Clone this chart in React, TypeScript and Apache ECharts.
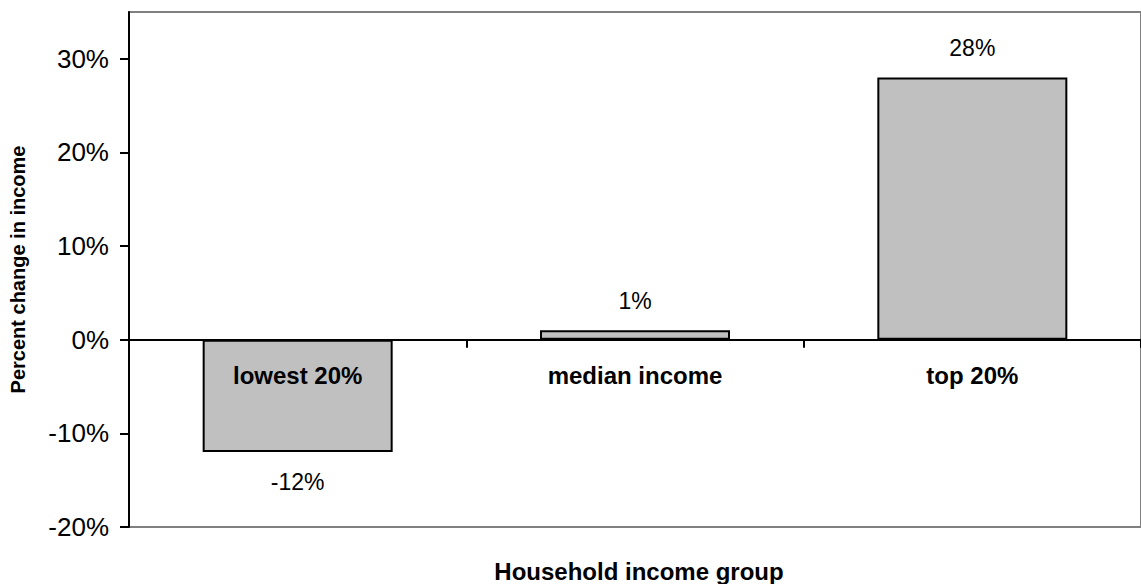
import React, { useEffect, useRef } from "react";
import * as echarts from "echarts";

// Household income groups and their percent change in income
const categories = ["lowest 20%", "median income", "top 20%"];
const changes = [-12, 1, 28];
const yTicks = [-20, -10, 0, 10, 20, 30];
const yMin = -20;
const yMax = 35;

const FONT = "'Liberation Sans', Arial, Helvetica, sans-serif";
const GRID_TOP = 12;
const GRID_HEIGHT = 515;

export default function App() {
  const ref = useRef<HTMLDivElement>(null);

  useEffect(() => {
    if (!ref.current) return;
    const chart = echarts.init(ref.current, null, { renderer: "svg" });

    const seriesData = changes.map((v) => ({
      value: v,
      label: { position: v < 0 ? "bottom" : "top" },
    }));

    // Lift the category axis from the plot's bottom edge up to the zero line
    const zeroOffset = -(GRID_HEIGHT * (0 - yMin)) / (yMax - yMin);

    chart.setOption({
      animation: false,
      textStyle: { fontFamily: FONT },
      grid: {
        left: 126,
        top: GRID_TOP,
        width: 1026,
        height: GRID_HEIGHT,
        show: true,
        borderColor: "#808080",
        borderWidth: 2,
        backgroundColor: "transparent",
      },
      xAxis: {
        type: "category",
        data: categories,
        z: 10,
        position: "bottom",
        offset: zeroOffset,
        axisLine: { onZero: false, lineStyle: { color: "#000", width: 2 } },
        axisTick: { show: true, length: 8, alignWithLabel: false, lineStyle: { color: "#000", width: 2 } },
        axisLabel: {
          color: "#000",
          fontFamily: FONT,
          fontSize: 24,
          fontWeight: "bold",
          margin: 24,
        },
        splitLine: { show: false },
      },
      yAxis: {
        type: "value",
        min: yMin,
        max: yMax,
        interval: 10,
        name: "Percent change in income",
        nameLocation: "middle",
        nameGap: 101,
        nameTextStyle: { color: "#000", fontFamily: FONT, fontSize: 20, fontWeight: "bold" },
        axisLine: { show: true, lineStyle: { color: "#000", width: 2 } },
        axisTick: { show: true, length: 9, customValues: yTicks, lineStyle: { color: "#000", width: 2 } },
        axisLabel: {
          color: "#000",
          fontFamily: FONT,
          fontSize: 26,
          margin: 20,
          customValues: yTicks,
          formatter: (v: number) => `${v}%`,
        },
        splitLine: { show: false },
      },
      series: [
        {
          type: "bar",
          data: seriesData,
          barWidth: 190,
          itemStyle: { color: "#c0c0c0", borderColor: "#000", borderWidth: 2 },
          label: {
            show: true,
            distance: 18,
            color: "#000",
            fontFamily: FONT,
            fontSize: 23,
            formatter: (p: any) => `${p.value}%`,
          },
        },
      ],
      graphic: [
        {
          type: "text",
          x: 639,
          y: 571,
          style: {
            text: "Household income group",
            fill: "#000",
            font: `bold 24px ${FONT}`,
            textAlign: "center",
            textVerticalAlign: "middle",
          },
        },
      ],
    });

    return () => chart.dispose();
  }, []);

  return (
    <div
      ref={ref}
      style={{ position: "fixed", left: 0, top: 0, width: 1141, height: 584, background: "#fff" }}
    />
  );
}
